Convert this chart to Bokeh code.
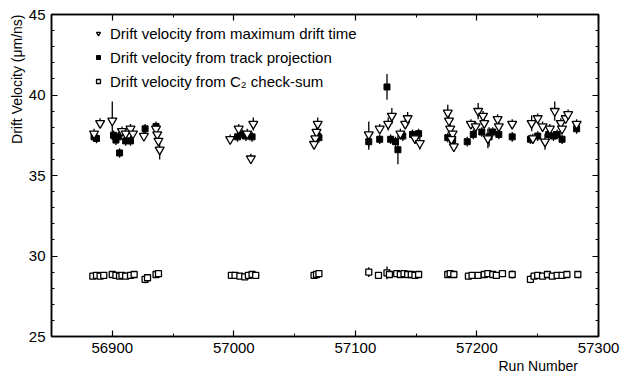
from bokeh.plotting import figure
from bokeh.models import (LinearAxis, SingleIntervalTicker, Range1d, Legend,
                          LegendItem, Title, ColumnDataSource, CustomJSTickFormatter)
from bokeh.embed import file_html
from bokeh.resources import INLINE

# ---- data ----
# drift velocity from maximum drift time (open inverted triangles)
tri_run = [56885, 56890, 56900, 56908, 56911, 56915, 56917, 56926, 56936, 56937, 56938, 56939,
           56997, 57004, 57011, 57016, 57014,
           57069, 57068, 57067, 57066,
           57111, 57120, 57127, 57130, 57137, 57141, 57143, 57149, 57153,
           57176, 57177, 57178, 57180, 57179, 57181,
           57195, 57199, 57201, 57205, 57206, 57209, 57217, 57218,
           57229,
           57245, 57246, 57250, 57254, 57256, 57260, 57264, 57269, 57270, 57273, 57275,
           57282]
tri_vel = [37.6, 38.25, 38.4, 37.75, 37.6, 37.9, 37.6, 37.45, 37.9, 37.55, 37.15, 36.6,
           37.25, 37.9, 37.6, 38.2, 36.05,
           38.2, 37.7, 37.3, 36.95,
           37.55, 37.9, 38.2, 38.7, 37.6, 38.2, 38.55, 37.3, 37.0,
           38.9, 38.4, 37.9, 37.6, 37.25, 36.8,
           38.2, 38.05, 39.0, 38.7, 38.25, 37.3, 38.5, 38.05,
           38.2,
           38.25, 37.3, 38.55, 38.05, 37.1, 37.9, 39.0, 38.25, 37.9, 38.55, 38.8,
           38.2]
tri_err = [0.3, 0.3, 1.2, 0.3, 0.3, 0.3, 0.3, 0.3, 0.3, 0.3, 0.3, 0.6,
           0.3, 0.3, 0.3, 0.4, 0.3,
           0.4, 0.3, 0.3, 0.3,
           0.8, 0.3, 0.4, 0.5, 0.3, 0.3, 0.4, 0.3, 0.4,
           0.5, 0.3, 0.3, 0.3, 0.3, 0.3,
           0.3, 0.3, 0.5, 0.3, 0.3, 0.6, 0.3, 0.3,
           0.3,
           0.5, 0.3, 0.3, 0.3, 0.5, 0.3, 0.6, 0.3, 0.3, 0.3, 0.3,
           0.3]

# drift velocity from track projection (filled squares)
sq_run = [56885, 56887, 56901, 56903, 56905, 56906, 56911, 56915, 56927, 56936,
          57003, 57007, 57010, 57015,
          57069, 57070,
          57111, 57120, 57126, 57129, 57133, 57135, 57139, 57147, 57152,
          57176, 57180,
          57192, 57197, 57204, 57210, 57213, 57218,
          57229,
          57244, 57250, 57259, 57263, 57266, 57270,
          57282]
sq_vel = [37.4, 37.3, 37.5, 37.2, 37.4, 36.4, 37.15, 37.15, 37.9, 38.05,
          37.4, 37.55, 37.45, 37.4,
          37.45, 37.35,
          37.1, 37.25, 40.5, 37.25, 37.1, 36.6, 37.45, 37.55, 37.6,
          37.35, 37.2,
          37.1, 37.55, 37.7, 37.4, 37.7, 37.55,
          37.4,
          37.25, 37.45, 37.55, 37.45, 37.55, 37.25,
          37.9]
sq_err = [0.3, 0.3, 0.3, 0.3, 0.3, 0.3, 0.3, 0.3, 0.3, 0.3,
          0.3, 0.3, 0.3, 0.3,
          0.3, 0.3,
          0.5, 0.3, 0.8, 0.3, 0.3, 0.9, 0.3, 0.3, 0.3,
          0.3, 0.3,
          0.3, 0.3, 0.3, 0.6, 0.3, 0.3,
          0.3,
          0.3, 0.3, 0.3, 0.3, 0.3, 0.3,
          0.3]

# drift velocity from C2 check-sum (open squares)
c2_run = [56884, 56887, 56890, 56893, 56900, 56903, 56906, 56908, 56911, 56915, 56918,
          56927, 56929, 56936, 56938,
          56998, 57001, 57005, 57009, 57012, 57015, 57018,
          57066, 57068, 57070,
          57111, 57119, 57126, 57128, 57134, 57137, 57140, 57143, 57146, 57149, 57152,
          57176, 57178, 57181,
          57193, 57196, 57201, 57206, 57209, 57213, 57216, 57221,
          57229,
          57244, 57247, 57250, 57254, 57258, 57262, 57266, 57270, 57274, 57283]
c2_vel = [28.75, 28.8, 28.75, 28.8, 28.85, 28.8, 28.75, 28.8, 28.75, 28.8, 28.85,
          28.55, 28.65, 28.85, 28.9,
          28.8, 28.8, 28.75, 28.7, 28.8, 28.85, 28.8,
          28.8, 28.85, 28.9,
          29.0, 28.8, 28.95, 28.85, 28.9, 28.85, 28.9, 28.85, 28.85, 28.8, 28.85,
          28.85, 28.9, 28.85,
          28.75, 28.8, 28.8, 28.85, 28.9, 28.85, 28.8, 28.9,
          28.85,
          28.55, 28.75, 28.8, 28.75, 28.85, 28.75, 28.8, 28.8, 28.85, 28.85]
c2_err = [0.15, 0.15, 0.15, 0.15, 0.2, 0.15, 0.15, 0.15, 0.15, 0.15, 0.15,
          0.25, 0.15, 0.2, 0.15,
          0.15, 0.15, 0.15, 0.15, 0.15, 0.15, 0.15,
          0.15, 0.15, 0.15,
          0.3, 0.15, 0.4, 0.15, 0.15, 0.15, 0.15, 0.15, 0.15, 0.15, 0.15,
          0.15, 0.15, 0.15,
          0.15, 0.15, 0.15, 0.15, 0.15, 0.15, 0.2, 0.15,
          0.25,
          0.25, 0.15, 0.15, 0.15, 0.15, 0.15, 0.15, 0.15, 0.15, 0.2]

labels = ["Drift velocity from maximum drift time",
          "Drift velocity from track projection",
          "Drift velocity from C\u2082 check-sum"]
x_label = "Run Number"
y_label = "Drift Velocity (\u03bcm/ns)"

FONT = "Liberation Sans"


def src(run, vel, err):
    return ColumnDataSource(dict(x=run, y=vel,
                                 lo=[v - e for v, e in zip(vel, err)],
                                 hi=[v + e for v, e in zip(vel, err)]))


tri = src(tri_run, tri_vel, tri_err)
sq = src(sq_run, sq_vel, sq_err)
c2 = src(c2_run, c2_vel, c2_err)

p = figure(width=634, height=376, output_backend="svg", toolbar_location=None,
           x_range=Range1d(56850, 57300), y_range=Range1d(25, 45),
           min_border_left=51, min_border_right=36, min_border_top=14,
           min_border_bottom=40)
p.title.visible = False
p.grid.visible = False
p.outline_line_color = "black"
p.outline_line_width = 1.5
p.background_fill_color = "white"
p.border_fill_color = "white"


def style(ax, show_labels=True):
    ax.axis_line_color = "black"
    ax.axis_line_width = 1.5
    ax.major_tick_in = 6
    ax.major_tick_out = 0
    ax.minor_tick_in = 3
    ax.minor_tick_out = 0
    ax.major_tick_line_color = "black"
    ax.minor_tick_line_color = "black"
    ax.major_tick_line_width = 1.2
    ax.major_label_text_font = FONT
    ax.major_label_text_color = "black"
    ax.major_label_text_font_size = "15px"
    if show_labels:
        ax.major_label_standoff = 6
    else:
        ax.formatter = CustomJSTickFormatter(code="return ''")
        ax.major_label_standoff = 0


p.xaxis.ticker = SingleIntervalTicker(interval=100, num_minor_ticks=2)
p.yaxis.ticker = SingleIntervalTicker(interval=5, num_minor_ticks=5)
style(p.xaxis[0])
style(p.yaxis[0])

top = LinearAxis(ticker=SingleIntervalTicker(interval=100, num_minor_ticks=2))
style(top, False)
p.add_layout(top, "above")
right = LinearAxis(ticker=SingleIntervalTicker(interval=5, num_minor_ticks=5))
style(right, False)
p.add_layout(right, "right")

# error bars
for s in (sq, c2, tri):
    p.segment(x0="x", y0="lo", x1="x", y1="hi", source=s, line_color="black", line_width=1.3)

r_sq = p.scatter("x", "y", source=sq, marker="square", size=6,
                 fill_color="black", line_color="black")
r_c2 = p.scatter("x", "y", source=c2, marker="square", size=6,
                 fill_color="white", line_color="black", line_width=1.3)
r_tri = p.scatter("x", "y", source=tri, marker="inverted_triangle", size=9,
                  fill_color="white", line_color="black", line_width=1.3)

leg = Legend(items=[LegendItem(label=labels[0], renderers=[r_tri]),
                    LegendItem(label=labels[1], renderers=[r_sq]),
                    LegendItem(label=labels[2], renderers=[r_c2])],
             location=(42, 245), orientation="vertical",
             glyph_width=10, glyph_height=20, label_height=20, spacing=4,
             padding=0, margin=0, label_standoff=7,
             label_text_font=FONT, label_text_font_size="15px",
             label_text_color="black",
             border_line_color=None, background_fill_alpha=0)
p.add_layout(leg)

xt_title = Title(text=x_label, align="left", offset=447, standoff=0,
                 text_font=FONT, text_font_size="14px", text_font_style="normal",
                 text_color="black")
p.add_layout(xt_title, "below")
yt_title = Title(text=y_label, align="right", offset=0, standoff=2,
                 text_font=FONT, text_font_size="14px", text_font_style="normal",
                 text_color="black")
p.add_layout(yt_title, "left")

open("out.html", "w").write(file_html(p, INLINE))
